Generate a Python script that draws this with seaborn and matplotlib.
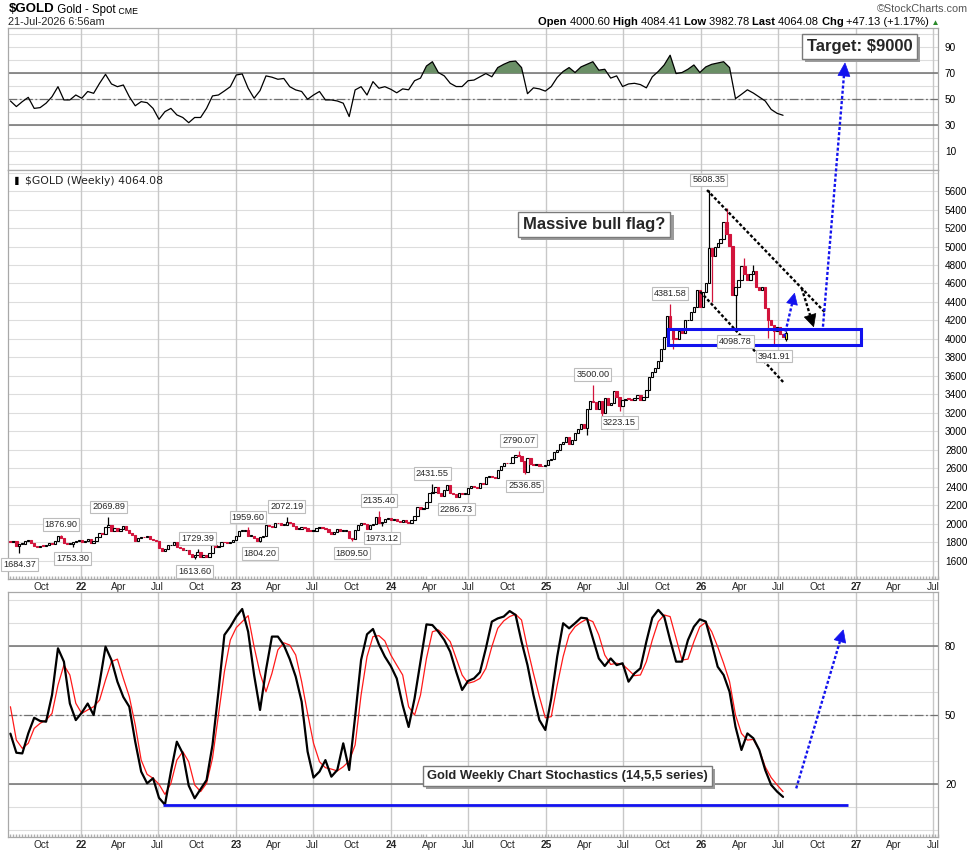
import matplotlib
matplotlib.use('Agg')
import matplotlib.pyplot as plt
import matplotlib.dates as mdates
import matplotlib.patheffects as pe
from matplotlib import font_manager
from matplotlib.patches import Rectangle, Polygon
from matplotlib.lines import Line2D
from matplotlib.text import Annotation
from matplotlib.transforms import IdentityTransform
import numpy as np
import pandas as pd
import seaborn as sns

# weekly closes, weeks starting Monday 2021-07-19
close_2021 = [1802, 1814, 1763, 1780, 1781, 1818, 1827, 1788, 1754, 1750, 1761, 1757,
              1768, 1793, 1783, 1818, 1865, 1846, 1788, 1783, 1783, 1798, 1811, 1829]
close_2022 = [1797, 1817, 1835, 1791, 1808, 1859, 1898, 1889, 1966, 1988, 1921, 1958, 1925,
              1947, 1975, 1931, 1896, 1883, 1811, 1846, 1853, 1851, 1871, 1840, 1827, 1811,
              1742, 1703, 1727, 1766, 1775, 1802, 1747, 1738, 1712, 1716, 1675, 1644, 1661,
              1695, 1644, 1657, 1644, 1681, 1771, 1751, 1755, 1798, 1797, 1793, 1798, 1824]
close_2023 = [1866, 1920, 1926, 1928, 1865, 1865, 1842, 1811, 1856, 1868, 1989, 1978, 1969,
              2007, 2004, 1983, 1990, 2017, 2011, 1977, 1946, 1948, 1961, 1958, 1921, 1919,
              1925, 1955, 1962, 1959, 1943, 1914, 1889, 1915, 1940, 1919, 1924, 1925, 1849,
              1833, 1932, 1981, 2006, 1992, 1940, 1981, 2001, 2072, 2004, 2019, 2053, 2063]
close_2024 = [2045, 2049, 2029, 2018, 2039, 2024, 2013, 2035, 2083, 2179, 2155, 2165, 2230,
              2330, 2344, 2392, 2337, 2302, 2360, 2415, 2334, 2327, 2294, 2332, 2321, 2326,
              2391, 2411, 2400, 2387, 2443, 2431, 2507, 2512, 2503, 2497, 2578, 2621, 2658,
              2653, 2657, 2721, 2747, 2736, 2684, 2563, 2716, 2650, 2633, 2648, 2622, 2621, 2640]
close_2025 = [2690, 2703, 2771, 2800, 2861, 2882, 2936, 2858, 2910, 2984, 3023, 3084, 3037,
              3237, 3327, 3319, 3240, 3325, 3202, 3357, 3289, 3310, 3432, 3368, 3274, 3337,
              3355, 3350, 3337, 3363, 3397, 3336, 3371, 3448, 3586, 3643, 3685, 3760, 3886,
              4018, 4251, 4111, 4002, 4000, 4085, 4065, 4200, 4210, 4290, 4340, 4530, 4350]
close_2026 = [4510, 4600, 4980, 4900, 5000, 5040, 5080, 5270, 5130, 5010, 4480, 4560, 4640,
              4790, 4700, 4640, 4700, 4730, 4560, 4530, 4560, 4330, 4200, 4150, 4090, 4130,
              4050, 4016.95, 4064.08]
first_open = 1805
last_open = 4000.60

label_highs = {'2021-11-15': 1876.90, '2022-03-07': 2069.89, '2022-10-03': 1729.39,
               '2023-01-30': 1959.60, '2023-05-01': 2072.19, '2023-12-04': 2135.40,
               '2024-04-08': 2431.55, '2024-10-28': 2790.07, '2025-04-21': 3500.00,
               '2025-10-20': 4381.58, '2026-01-19': 5608.35}
label_lows = {'2021-08-09': 1684.37, '2021-12-13': 1753.30, '2022-09-26': 1613.60,
              '2023-02-27': 1804.20, '2023-10-02': 1809.50, '2023-12-11': 1973.12,
              '2024-06-03': 2286.73, '2024-11-11': 2536.85, '2025-06-23': 3223.15,
              '2026-03-23': 4098.78, '2026-06-22': 3941.91}
extra_highs = {'2026-03-02': 5420, '2026-04-13': 4880, '2026-05-04': 4800, '2026-07-20': 4084.41}
extra_lows = {'2025-04-07': 2957, '2025-05-12': 3120, '2025-10-27': 3886, '2026-01-26': 4400,
              '2026-06-08': 4010, '2026-07-20': 3982.78}

# RSI(14), every second week
rsi_vals = [48.7, 44.4, 48.2, 51.5, 43, 43.6, 47, 52, 59.7, 49.5,
            49.5, 53.3, 50.8, 56, 54.6, 62.3, 69.2, 61.8, 59.7, 61,
            52, 45, 48.2, 47.4, 43, 34.6, 40.5, 43, 38, 36,
            32, 36, 36, 43, 52.6, 53.3, 56.4, 59.7, 68.7, 69.5,
            58.5, 50.8, 56.7, 68, 67, 65.4, 66, 59.7, 57.2, 56,
            50, 53.3, 56, 49.5, 49.5, 48.7, 47, 36.7, 57.2, 59.7,
            53.3, 63.6, 58.5, 59.7, 57.7, 55,
            58, 57.3, 64.3, 66.3, 75.6, 78.9, 70.6, 68, 62.3, 59.8,
            59.8, 64.3, 64.8, 67.3, 69.8, 67.3, 74.4, 76.9, 78.9, 79.4,
            74.4, 54.3, 58.8, 58, 56.3, 59.8, 66.8, 71.4, 74.4, 70.6,
            74.9, 76.9, 78.9, 72.4, 73.1, 66.3, 68, 59.8, 61.8, 62.3,
            61.3, 58.8, 67.3, 71.4, 76.4, 83.9, 69.8, 70.6, 73.1, 76.4,
            70.6, 74.9, 76.9, 77.9, 78.9, 74.4, 50.5, 53.8, 57.3, 54.8,
            51.8, 48.7, 42.2, 39.2, 37.7]

# Slow stochastics (14,5,5), every second week
stoch_k = [41.9, 33.6, 33.3, 42, 48.8, 47.4, 47.1, 58.7, 79, 73.2,
           55, 47.8, 51, 55, 50, 64, 79.7, 73.9, 64.5, 57.8,
           53.6, 38.4, 25.4, 20.3, 22.5, 14, 11, 25.4, 38.4, 33.3,
           19.3, 13.8, 17.8, 21.7, 37, 60.1, 84.8, 88.4, 92.8, 96.1,
           86.2, 67.4, 52.2, 69.6, 84.1, 84.1, 80.4, 74.3, 66.7, 55.8,
           34.1, 22.8, 25.4, 30.4, 23.2, 26.1, 37.7, 26.1, 49.3, 73.9,
           85.1, 87.4, 80.7, 75.4, 71.3, 65.9,
           54.3, 44.8, 57.2, 73.2, 89.4, 89.1, 86.2, 82.6, 77.5, 68.8,
           60.9, 64.8, 65.9, 68.6, 79, 90.6, 92, 92.8, 95.2, 93.5,
           81.9, 71.7, 58.7, 47.8, 43.5, 57.2, 75.4, 89.9, 87.7, 89.9,
           92.3, 92, 83.3, 74.6, 71.3, 74.6, 71.7, 72.5, 64.5, 68.1,
           70.3, 81.9, 92.3, 95.7, 92.8, 82.6, 73.2, 73.2, 82.6, 88.4,
           91.6, 90.6, 81.2, 71, 67.4, 60.1, 44.9, 34.8, 42, 39.9,
           34.8, 26.1, 19.6, 16.7, 14.4]
stoch_d = [53.6, 39.1, 35.5, 37.7, 44.2, 46.4, 47.8, 50.7, 63, 71.7,
           67.4, 55.1, 50.7, 52.2, 53.6, 56.5, 65.2, 73.2, 74.3, 65.9,
           58, 45.7, 30.4, 24.2, 22.5, 19.9, 15.5, 20.3, 30.4, 34.1,
           29.7, 19.6, 16.7, 20.3, 31.2, 50, 68.8, 82.6, 88, 90.6,
           93.2, 79.7, 68.1, 60.1, 68.1, 78.3, 81.4, 80.4, 76.1, 64.5,
           50.7, 37.7, 29.7, 27.1, 26.5, 25.7, 27.5, 30, 37, 58.7,
           75.4, 84.1, 84.5, 82.2, 76.1, 71.7,
           67.4, 53.6, 50, 58.7, 74.6, 86.2, 87, 84.8, 81.9, 74.6,
           67.4, 63.8, 64.5, 65.9, 70.3, 79.7, 87.7, 90.9, 92.8, 93.8,
           91.3, 79, 68.1, 58, 48.8, 49.3, 63, 75.4, 84.8, 88.4,
           90.3, 91.7, 90.6, 84.8, 76.1, 72, 72.5, 72, 69.6, 67.1,
           67.4, 73.2, 82.6, 90.6, 93.5, 92.8, 83.3, 73.9, 74.3, 81.9,
           88.4, 90.3, 86.2, 79.7, 72.5, 64.5, 50, 42, 39.1, 39.4,
           34.8, 27.5, 22.8, 19.6, 16.7]

RED = '#d2143c'
BLUE = '#1212ee'
GREEN = '#6a8f66'
GRID = '#dddddd'
DARK = '#707070'

sns.set_theme(style='white')
fonts = {f.name for f in font_manager.fontManager.ttflist}
SANS = 'Liberation Sans' if 'Liberation Sans' in fonts else 'DejaVu Sans'
plt.rcParams['font.family'] = [SANS, 'DejaVu Sans']

W, H = 973, 851
fig = plt.figure(figsize=(W / 100, H / 100), dpi=100)
fig.patch.set_facecolor('white')


def fx(px):
    return px / W


def fy(py):
    return 1 - py / H


L, R = 8.3, 938
ax_rsi = fig.add_axes([fx(L), fy(169.5), fx(R - L), (169.5 - 28.3) / H])
ax_px = fig.add_axes([fx(L), fy(578.7), fx(R - L), (578.7 - 170) / H])
ax_st = fig.add_axes([fx(L), fy(836.7), fx(R - L), (836.7 - 592.3) / H])

closes = close_2021 + close_2022 + close_2023 + close_2024 + close_2025 + close_2026
weeks = pd.date_range('2021-07-19', periods=len(closes), freq='W-MON')
prev_close = [first_open] + closes[:-1]
opens = list(prev_close)
opens[-1] = last_open
df = pd.DataFrame({'week': weeks, 'open': opens, 'close': closes})
df['high'] = df[['open', 'close']].max(axis=1)
df['low'] = df[['open', 'close']].min(axis=1)
for d, v in {**label_highs, **extra_highs}.items():
    df.loc[df.week == pd.Timestamp(d), 'high'] = v
for d, v in {**label_lows, **extra_lows}.items():
    df.loc[df.week == pd.Timestamp(d), 'low'] = v

down = (df.close < pd.Series(prev_close)).values
face = np.where(down, RED, 'white')
edge = np.where(down, RED, 'black')
face[-1] = '#ffff33'

# --- common axis styling
x0, x1 = pd.Timestamp('2021-07-14'), pd.Timestamp('2027-07-13')
grid_v = pd.date_range('2022-01-01', '2027-07-01', freq='6MS')
tick_dates = pd.date_range('2021-10-01', '2027-07-01', freq='QS')
tick_labels = [d.strftime('%y') if d.month == 1 else d.strftime('%b') for d in tick_dates]
minor = pd.date_range(x0, x1, freq='W-MON')

# --- RSI panel
sns.lineplot(x=weeks[::2], y=rsi_vals, ax=ax_rsi, color='black', linewidth=0.9,
             estimator=None, legend=False, zorder=4)
rv = np.array(rsi_vals)
ax_rsi.fill_between(weeks[::2], rv, 70, where=rv > 70, interpolate=True, color=GREEN, lw=0, zorder=3)
ax_rsi.set_ylim(-4, 104.6)
for v in range(0, 101, 10):
    ax_rsi.axhline(v, color=GRID, lw=0.8, zorder=0)
ax_rsi.axhline(30, color=DARK, lw=1.1, zorder=1)
ax_rsi.axhline(70, color=DARK, lw=1.1, zorder=1)
ax_rsi.axhline(50, color=DARK, lw=0.9, ls=(0, (7, 2, 1.5, 2)), zorder=1)
ax_rsi.set_yticks([10, 30, 50, 70, 90])

# --- price panel
ax_px.vlines(df.week, df.low, df.high, colors=edge, lw=0.9, zorder=2)
ax_px.bar(df.week, (df.close - df.open).abs().clip(lower=9), bottom=df[['open', 'close']].min(axis=1),
          width=5.4, color=face, edgecolor=edge, linewidth=0.8, zorder=3)
ax_px.set_ylim(1405, 5828)
for v in range(1600, 5801, 200):
    ax_px.axhline(v, color=GRID, lw=0.8, zorder=0)
ax_px.set_yticks(range(1600, 5601, 200))
ax_px.text(0.018, 0.985, '$GOLD (Weekly) 4064.08', transform=ax_px.transAxes, ha='left', va='top',
           fontsize=7.8, family='DejaVu Sans', color='#222222')
ax_px.text(0.004, 0.985, '\u2590', transform=ax_px.transAxes, ha='left', va='top', fontsize=6,
           family='DejaVu Sans', color='black')

lab_box = dict(boxstyle='square,pad=0.2', fc='white', ec='#bdbdbd', lw=0.8)
for d, v in label_highs.items():
    ax_px.annotate(f'{v:.2f}', xy=(mdates.date2num(pd.Timestamp(d)), v), xytext=(0, 7.5),
                   textcoords='offset points', ha='center', va='center', fontsize=6.6,
                   bbox=lab_box, zorder=6)
for d, v in label_lows.items():
    ax_px.annotate(f'{v:.2f}', xy=(mdates.date2num(pd.Timestamp(d)), v), xytext=(0, -8.5),
                   textcoords='offset points', ha='center', va='center', fontsize=6.6,
                   bbox=lab_box, zorder=6)

# flag lines and support box
dots = (0, (1.3, 0.9))
ax_px.plot([pd.Timestamp('2026-01-15'), pd.Timestamp('2026-10-22')], [5611, 4277],
           color='black', lw=1.7, ls=dots, zorder=5)
ax_px.plot([pd.Timestamp('2025-12-30'), pd.Timestamp('2026-07-16')], [4511, 3520],
           color='black', lw=1.7, ls=dots, zorder=5)
r0, r1 = mdates.date2num(pd.Timestamp('2025-10-15')), mdates.date2num(pd.Timestamp('2027-01-13'))
ax_px.add_patch(Rectangle((r0, 3938), r1 - r0, 170, fill=False, ec=BLUE, lw=2.2, zorder=5))

# --- stochastics panel
sns.lineplot(x=weeks[::2], y=stoch_d, ax=ax_st, color='#ff1a1a', linewidth=0.9,
             estimator=None, legend=False, zorder=3)
sns.lineplot(x=weeks[::2], y=stoch_k, ax=ax_st, color='black', linewidth=1.6,
             estimator=None, legend=False, zorder=4)
ax_st.set_ylim(-2.9, 103.35)
for v in range(0, 101, 10):
    ax_st.axhline(v, color=GRID, lw=0.8, zorder=0)
ax_st.axhline(20, color=DARK, lw=1.1, zorder=1)
ax_st.axhline(80, color=DARK, lw=1.1, zorder=1)
ax_st.axhline(50, color=DARK, lw=0.9, ls=(0, (7, 2, 1.5, 2)), zorder=1)
ax_st.set_yticks([20, 50, 80])
ax_st.hlines(10.9, pd.Timestamp('2022-07-14'), pd.Timestamp('2026-12-14'), color=BLUE, lw=2, zorder=5)

for ax in (ax_rsi, ax_px, ax_st):
    ax.set(xlabel='', ylabel='')
    ax.set_facecolor('white')
    ax.set_xlim(x0, x1)
    for d in grid_v:
        ax.axvline(d, color='#c8c8c8', lw=1, zorder=0)
    for s in ax.spines.values():
        s.set_color('#a8a8a8')
        s.set_linewidth(0.9)
    ax.yaxis.tick_right()
    ax.tick_params(axis='y', length=0, pad=5, labelsize=7.2, labelcolor='black')
    ax.set_xticks(tick_dates)
    ax.tick_params(axis='x', which='major', length=0, pad=2.5, labelsize=7.3)
    ax.grid(False)
    if ax is ax_rsi:
        ax.set_xticklabels([])
    else:
        ax.set_xticks(minor, minor=True)
        ax.tick_params(axis='x', which='minor', length=2, direction='in', color='#b0b0b0', bottom=True)
        ax.set_xticklabels(tick_labels)
        for lab, d in zip(ax.get_xticklabels(), tick_dates):
            if d.month == 1:
                lab.set_fontweight('bold')

# --- header
def chain(pieces, x, y):
    prev = fig.text(fx(x), fy(y), pieces[0][0], fontsize=pieces[0][1], fontweight=pieces[0][2],
                    color=pieces[0][3], ha='left', va='bottom')
    for s, size, w, c in pieces[1:]:
        prev = fig.add_artist(Annotation(s, xy=(1, 0), xycoords=prev, ha='left', va='bottom',
                                         fontsize=size, fontweight=w, color=c))


chain([('$GOLD', 9.5, 'bold', 'black'), (' Gold - Spot', 8.3, 'normal', 'black'),
       (' CME', 6.3, 'normal', 'black')], 8.5, 15.5)
fig.text(fx(7.5), fy(27), '21-Jul-2026 6:56am', fontsize=7.8, ha='left', va='bottom')
fig.text(fx(968), fy(14), '\u00a9StockCharts.com', fontsize=7.8, color='#555555', ha='right', va='bottom')
chain([('Open ', 8, 'bold', 'black'), ('4000.60 ', 8, 'normal', 'black'),
       ('High ', 8, 'bold', 'black'), ('4084.41 ', 8, 'normal', 'black'),
       ('Low ', 8, 'bold', 'black'), ('3982.78 ', 8, 'normal', 'black'),
       ('Last ', 8, 'bold', 'black'), ('4064.08 ', 8, 'normal', 'black'),
       ('Chg ', 8, 'bold', 'black'), ('+47.13 (+1.17%)', 8, 'normal', 'black'),
       (' \u25b2', 6, 'normal', '#2a8a2a')], 538, 27)

# --- callout boxes
def callout(x, y, s, size):
    t = fig.text(fx(x), fy(y), s, ha='center', va='center', fontsize=size, fontweight='bold',
                 bbox=dict(boxstyle='square,pad=0.3', fc='white', ec='#7a7a7a', lw=1), zorder=10)
    t.get_bbox_patch().set_path_effects([pe.withSimplePatchShadow(offset=(2.2, -2.2),
                                                                  shadow_rgbFace='#9c9c9c', alpha=1)])


callout(859.5, 46.7, 'Target: $9000', 12)
callout(594.3, 224, 'Massive bull flag?', 12)
callout(567.7, 775.8, 'Gold Weekly Chart Stochastics (14,5,5 series)', 9.4)

# --- arrows (pixel geometry of the drawn annotations)
def to_px(ax, d, v):
    return ax.transData.transform((mdates.date2num(pd.Timestamp(d)), v))


def arrow(p0, p1, color, head_len=12, head_w=6, lw=1.7):
    p0, p1 = np.asarray(p0, float), np.asarray(p1, float)
    u = (p1 - p0) / np.hypot(*(p1 - p0))
    n = np.array([-u[1], u[0]])
    base = p1 - u * head_len
    fig.add_artist(Line2D([p0[0], base[0]], [p0[1], base[1]], transform=IdentityTransform(),
                          color=color, lw=lw, ls=dots, zorder=8))
    fig.add_artist(Polygon([p1, base + n * head_w, base - n * head_w], closed=True,
                           transform=IdentityTransform(), fc=color, ec=color, lw=0.5, zorder=8))


arrow(to_px(ax_px, '2026-08-26', 4548), to_px(ax_px, '2026-09-23', 4132), 'black', 12, 6)
arrow(to_px(ax_px, '2026-07-16', 4024), to_px(ax_px, '2026-08-09', 4494), BLUE, 11, 5.5)
arrow(to_px(ax_px, '2026-10-15', 4132), (845, H - 63), BLUE, 13, 6)
arrow(to_px(ax_st, '2026-08-13', 18.1), to_px(ax_st, '2026-12-02', 87), BLUE, 12, 6)

fig.savefig('out.png', dpi=100, facecolor='white')
